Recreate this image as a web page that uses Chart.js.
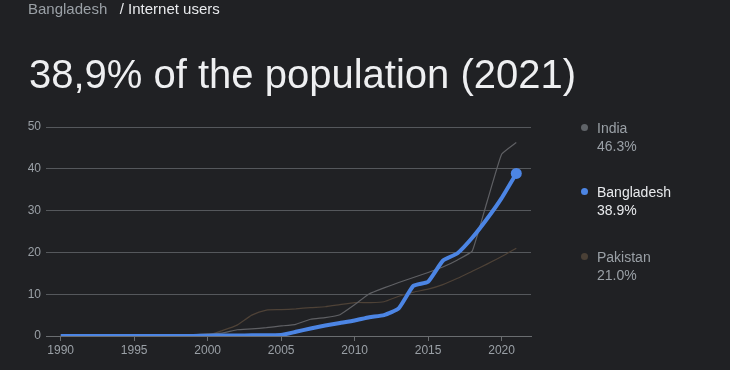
<!DOCTYPE html>
<html>
<head>
<meta charset="utf-8">
<script src="https://cdn.jsdelivr.net/npm/chart.js@4/dist/chart.umd.min.js"></script>
<style>
  html, body { margin: 0; padding: 0; background: #202124; }
  body { width: 730px; height: 370px; position: relative; overflow: hidden; font-family: Arial, "Liberation Sans", sans-serif; }
  #wrap { position: absolute; left: 0; top: 0; width: 730px; height: 370px; }
  .crumb { position: absolute; left: 28px; top: 0px; font-size: 15px; line-height: 18px; color: #9aa0a6; white-space: nowrap; }
  .crumb .cur { color: #e8eaed; }
  .title { position: absolute; left: 29px; top: 52px; font-size: 40px; line-height: 44px; color: #eeeff1; white-space: nowrap; }
  .leg { position: absolute; left: 597px; font-size: 14px; line-height: 17.5px; color: #9aa0a6; white-space: nowrap; }
  .leg.active { color: #e8eaed; }
  .dot { position: absolute; left: -16px; top: 4px; width: 7px; height: 7px; border-radius: 50%; }
</style>
</head>
<body>
<div id="wrap"><canvas id="c" width="730" height="370"></canvas></div>
<div class="crumb">Bangladesh&nbsp;&nbsp;&nbsp;<span class="cur">/ Internet users</span></div>
<div class="title">38,9% of the population (2021)</div>
<div class="leg" style="top:120px"><span class="dot" style="background:#5f6368"></span>India<br>46.3%</div>
<div class="leg active" style="top:184px"><span class="dot" style="background:#4c85e4"></span>Bangladesh<br>38.9%</div>
<div class="leg" style="top:249px"><span class="dot" style="background:#4a4036"></span>Pakistan<br>21.0%</div>
<script>
const years = [1990,1991,1992,1993,1994,1995,1996,1997,1998,1999,2000,2001,2002,2003,2004,2005,2006,2007,2008,2009,2010,2011,2012,2013,2014,2015,2016,2017,2018,2019,2020,2021];
const bangladesh = [0,0,0,0,0,0,0,0,0,0,0.07,0.13,0.14,0.16,0.2,0.24,1.0,1.8,2.5,3.1,3.7,4.5,5.0,6.6,12.0,13.0,18.0,19.8,23.5,28.0,33.0,38.9];
const india = [0,0,0,0,0,0.01,0.05,0.07,0.14,0.27,0.5,0.7,1.5,1.7,2.0,2.4,2.8,4.0,4.4,5.1,7.5,10.1,11.5,12.8,14.0,15.2,16.5,18.2,20.3,32.0,43.5,46.3];
const pakistan = [0,0,0,0,0,0,0,0,0.01,0.03,0.2,1.3,2.6,5.0,6.2,6.3,6.5,6.8,7.0,7.5,8.0,8.0,8.2,9.5,10.5,11.2,12.3,13.8,15.5,17.2,19.0,21.0];
const xTickLabels = [1990,1995,2000,2005,2010,2015,2020];
const yTickLabels = [0,10,20,30,40,50];

const pts = arr => years.map((y, i) => ({ x: y, y: arr[i] }));

new Chart(document.getElementById('c'), {
  type: 'line',
  data: {
    datasets: [
      { label: 'Pakistan', data: pts(pakistan), borderColor: '#4e4237', borderWidth: 1.2, pointRadius: 0, tension: 0.2, order: 3 },
      { label: 'India', data: pts(india), borderColor: '#5f6064', borderWidth: 1.2, pointRadius: 0, tension: 0.1, order: 2 },
      { label: 'Bangladesh', data: pts(bangladesh), borderColor: '#4c85e4', borderWidth: 4, tension: 0.15,
        pointRadius: years.map((y, i) => i === years.length - 1 ? 5.5 : 0),
        pointBackgroundColor: '#4c85e4', pointBorderWidth: 0, order: 1 }
    ]
  },
  options: {
    responsive: false,
    animation: false,
    layout: { padding: { left: 0, right: 199, top: 127, bottom: 0 } },
    plugins: { legend: { display: false }, tooltip: { enabled: false } },
    scales: {
      x: {
        type: 'linear', min: 1989, max: 2022,
        afterBuildTicks: s => { s.ticks = xTickLabels.map(v => ({ value: v })); },
        afterFit: s => { s.height = 34; },
        ticks: { color: '#9aa0a6', font: { size: 12, family: 'Arial' }, padding: 2, maxRotation: 0, callback: v => String(v) },
        grid: { display: true, drawOnChartArea: false, drawTicks: true, tickLength: 5, color: '#6a6d70' },
        border: { display: true, color: '#6a6d70', width: 1 }
      },
      y: {
        min: 0, max: 50,
        afterBuildTicks: s => { s.ticks = yTickLabels.map(v => ({ value: v })); },
        afterFit: s => { s.width = 46; },
        ticks: { color: '#9aa0a6', font: { size: 12, family: 'Arial' }, padding: 5 },
        grid: { color: '#55585c', drawTicks: false, lineWidth: 1 },
        border: { display: false }
      }
    }
  }
});
</script>
</body>
</html>
